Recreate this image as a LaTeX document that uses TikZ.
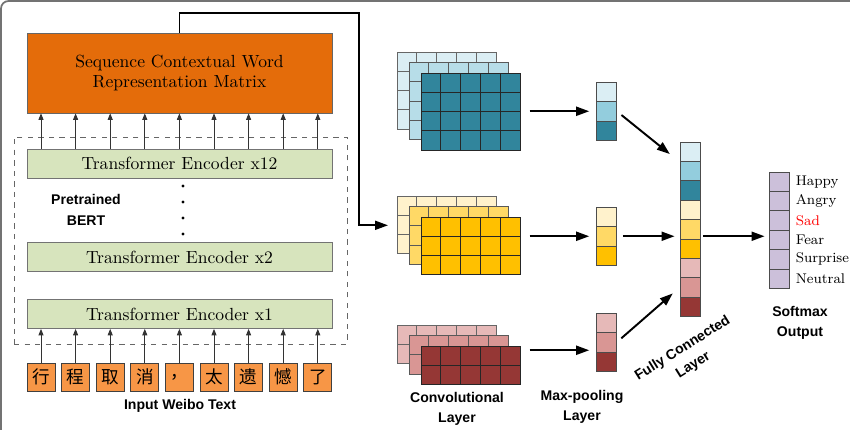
\documentclass[tikz,border=0pt]{standalone}
\usepackage{fontspec}
\setsansfont{Liberation Sans}
\newfontfamily\cjk{Noto Sans CJK SC}
\usetikzlibrary{arrows.meta,fit,positioning}

\definecolor{seqorange}{HTML}{E46C0A}
\definecolor{chrorange}{HTML}{F79646}
\definecolor{encgreen}{HTML}{D7E4BD}
\definecolor{blA}{HTML}{DBEEF4}
\definecolor{blB}{HTML}{B7DDE8}
\definecolor{blM}{HTML}{93CDDD}
\definecolor{blC}{HTML}{31859C}
\definecolor{yeA}{HTML}{FFF2CC}
\definecolor{yeB}{HTML}{FFD966}
\definecolor{yeC}{HTML}{FFC000}
\definecolor{reA}{HTML}{E6B9B8}
\definecolor{reB}{HTML}{D99694}
\definecolor{reC}{HTML}{953735}
\definecolor{smpurple}{HTML}{CCC0DA}

\tikzset{
  cell/.style={draw=black!70, line width=0.5pt, minimum width=0.4cm, minimum height=0.39cm, inner sep=0pt},
  enc/.style={draw=black!55, fill=encgreen, minimum width=6.1cm, minimum height=0.58cm, inner sep=0pt, font=\fontsize{10}{12}\selectfont},
  chr/.style={draw=black!75, fill=chrorange, minimum width=0.56cm, minimum height=0.56cm, inner sep=0pt, font=\cjk\fontsize{10}{12}\selectfont},
  lbl/.style={font=\sffamily\bfseries\fontsize{8}{11.4}\selectfont, align=center, inner sep=0pt},
  uparr/.style={-{Triangle[length=1.3mm,width=1mm]}, line width=0.5pt, black!80},
  arr/.style={-{Triangle[length=2.6mm,width=1.8mm]}, line width=1.1pt},
}

% feature map stack: name, x, y, rows, back/middle/front colour
\newcommand{\featmap}[7]{%
  \foreach \col/\bd [count=\k from 0] in {#5/60,#6/65,#7/85}
    \foreach \i in {0,...,4}
      \foreach \j in {1,...,#4}
        \draw[black!\bd, line width=0.5pt, fill=\col] ({#2+12*\k+19.8*\i},{#3+10.5*\k+19.3*(\j-1)}) rectangle ++(19.8,19.3);
  \node[inner sep=0pt, minimum width=1.98cm, minimum height=#4*0.386cm, anchor=north west] (#1) at (#2+24,#3+21) {};
  \node[inner sep=0pt, minimum width=1.98cm, minimum height=#4*0.386cm, anchor=north west] (#1b) at (#2,#3) {};
}

\begin{document}
\begin{tikzpicture}[x=0.02cm, y=-0.02cm]
    \useasboundingbox (0,0) rectangle (850,430);
    \draw[black!55, line width=1pt, rounded corners=0.15cm] (1,430) -- (1,1) -- (850,1);

    % BERT
    \node[draw=black!60, dashed, minimum width=6.66cm, minimum height=4.14cm] (bert) at (180.5,240.5) {};
    \node[draw=black!60, fill=seqorange, minimum width=6.1cm, minimum height=1.6cm, align=center, font=\fontsize{10}{11.4}\selectfont] (seq) at (179.5,73) {Sequence Contextual Word\\Representation Matrix};
    \node[enc] (enc12) at (179.5,163.5) {Transformer Encoder x12};
    \node[enc] (enc2) at (179.5,257) {Transformer Encoder x2};
    \node[enc] (enc1) at (179.5,314) {Transformer Encoder x1};
    \foreach \y in {186,202,218,234}
        \fill (183,\y) circle (0.032cm);
    \node[lbl, font=\sffamily\bfseries\fontsize{8}{12}\selectfont] (pre) at (86,210) {Pretrained\\BERT};
    \foreach \ch [count=\i] in {行,程,取,消,，,太,遗,憾,了}
        \node[chr] (c\i) at ({41+(\i-1)*34.6},377) {\ch};
    \foreach \i in {1,...,9} {
        \draw[uparr] (c\i) -- (c\i |- enc1.south);
        \draw[uparr] (c\i |- enc12.north) -- (c\i |- seq.south);
    }
    \node[lbl] (inp) at (180,406) {Input Weibo Text};

    % CNN
    \featmap{fmB}{397}{52}{4}{blA}{blB}{blC}
    \featmap{fmY}{397}{196}{3}{yeA}{yeB}{yeC}
    \featmap{fmR}{397}{325}{2}{reA}{reB}{reC}
    \foreach \c [count=\i] in {blA,blM,blC}
        \node[cell, fill=\c] (mpB\i) at (606,{91.75+19.5*(\i-1)}) {};
    \foreach \c [count=\i] in {yeA,yeB,yeC}
        \node[cell, fill=\c] (mpY\i) at (606,{216.75+19.5*(\i-1)}) {};
    \foreach \c [count=\i] in {reA,reB,reC}
        \node[cell, fill=\c] (mpR\i) at (606,{322.75+19.5*(\i-1)}) {};
    \node[fit=(mpB1)(mpB3), inner sep=0pt] (mpB) {};
    \node[fit=(mpY1)(mpY3), inner sep=0pt] (mpY) {};
    \node[fit=(mpR1)(mpR3), inner sep=0pt] (mpR) {};
    \foreach \c [count=\i] in {blA,blM,blC,yeA,yeB,yeC,reA,reB,reC}
        \node[cell, fill=\c] (fc\i) at (690,{151.7+19.4*(\i-1)}) {};
    \foreach \t [count=\i] in {Happy,Angry,{\textcolor{red}{Sad}},Fear,Surprise,Neutral} {
        \node[cell, fill=smpurple] (sm\i) at (779,{181.7+19.4*(\i-1)}) {};
        \node[anchor=west, inner sep=0pt, font=\fontsize{8}{9}\selectfont] (t\i) at ([xshift=0.12cm]sm\i.east) {\t};
    }

    % connectors
    \coordinate (bend) at (359,13);
    \draw[arr, shorten >=0.18cm] (seq.north) |- (bend) |- (fmYb.west);
    \draw[arr, shorten <=0.18cm, shorten >=0.12cm] (fmB.east |- mpB) -- (mpB.west);
    \draw[arr, shorten <=0.18cm, shorten >=0.12cm] (fmY.east |- mpY) -- (mpY.west);
    \draw[arr, shorten <=0.18cm, shorten >=0.12cm] ([yshift=-0.16cm]fmR.east |- mpR) -- ([yshift=-0.16cm]mpR.west);
    \draw[arr, shorten <=0.12cm, shorten >=0.25cm] (mpB.east) -- (fc1.south west);
    \draw[arr, shorten <=0.12cm, shorten >=0.1cm] (mpY.east) -- (mpY.east -| fc1.west);
    \draw[arr, shorten <=0.12cm, shorten >=0.18cm] (mpR.east) -- (fc8.west);
    \draw[arr, shorten <=0.05cm, shorten >=0.08cm] (mpY.east -| fc1.east) -- (mpY.east -| sm1.west);

    \node[lbl] (convlbl) at (457,409) {Convolutional\\Layer};
    \node[lbl] (poollbl) at (582,407) {Max-pooling\\Layer};
    \node[lbl, rotate=32] (fclbl) at (688,357) {Fully Connected\\Layer};
    \node[lbl] (smlbl) at (800,323) {Softmax\\Output};
\end{tikzpicture}
\end{document}
